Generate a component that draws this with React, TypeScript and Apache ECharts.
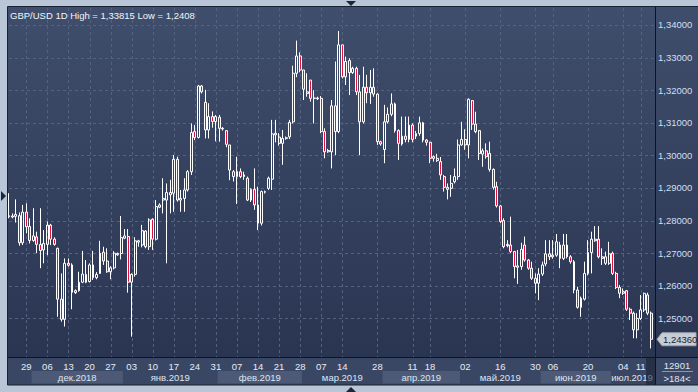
import React, { useEffect, useRef } from "react";
import * as echarts from "echarts";

// ---------- data ----------
const openVals = [
  1.2812, 1.2811, 1.2813, 1.2815, 1.2732, 1.2826, 1.2782, 1.2739, 1.2750, 1.2727,
  1.2710, 1.2727, 1.2786, 1.2743, 1.2715, 1.2559, 1.2497, 1.2669, 1.2664, 1.2585,
  1.2585, 1.2611, 1.2635, 1.2613, 1.2664, 1.2625, 1.2638, 1.2703, 1.2676, 1.2643,
  1.2655, 1.2699, 1.2699, 1.2746, 1.2751, 1.2611, 1.2635, 1.2734, 1.2725, 1.2768,
  1.2720, 1.2804, 1.2743, 1.2848, 1.2863, 1.2863, 1.2886, 1.2884, 1.2988, 1.2863,
  1.2868, 1.2894, 1.2950, 1.3073, 1.3055, 1.3213, 1.3163, 1.3078, 1.3119, 1.3104,
  1.3117, 1.3083, 1.3076, 1.3032, 1.2935, 1.2935, 1.2950, 1.2940, 1.2930, 1.2863,
  1.2896, 1.2848, 1.2792, 1.2889, 1.2899, 1.2927, 1.3063, 1.3056, 1.3037, 1.3052,
  1.3057, 1.3103, 1.3252, 1.3305, 1.3262, 1.3190, 1.3231, 1.3175, 1.3176, 1.3175,
  1.3073, 1.3011, 1.3011, 1.3152, 1.3073, 1.3339, 1.3241, 1.3291, 1.3254, 1.3267,
  1.3195, 1.3103, 1.3209, 1.3192, 1.3209, 1.3188, 1.3042, 1.3018, 1.3103, 1.3126,
  1.3158, 1.3076, 1.3035, 1.3059, 1.3049, 1.3093, 1.3059, 1.3067, 1.3100, 1.3047,
  1.3040, 1.2991, 1.2991, 1.2981, 1.2935, 1.2902, 1.2899, 1.2919, 1.2935, 1.3032,
  1.3049, 1.3032, 1.3168, 1.3096, 1.3076, 1.3004, 1.3014, 1.3006, 1.2957, 1.2904,
  1.2845, 1.2800, 1.2727, 1.2725, 1.2705, 1.2661, 1.2659, 1.2725, 1.2679, 1.2654,
  1.2623, 1.2608, 1.2636, 1.2667, 1.2698, 1.2689, 1.2694, 1.2725, 1.2684, 1.2725,
  1.2689, 1.2674, 1.2587, 1.2534, 1.2559, 1.2638, 1.2702, 1.2743, 1.2743, 1.2689,
  1.2669, 1.2669, 1.2700, 1.2638, 1.2595, 1.2582, 1.2585, 1.2528, 1.2516, 1.2465,
  1.2500, 1.2526, 1.2572, 1.2516,
];
const closeVals = [
  1.2815, 1.2814, 1.2819, 1.2732, 1.2826, 1.2781, 1.2739, 1.2753, 1.2727, 1.2708,
  1.2730, 1.2786, 1.2743, 1.2727, 1.2559, 1.2497, 1.2669, 1.2663, 1.2580, 1.2579,
  1.2611, 1.2636, 1.2611, 1.2664, 1.2625, 1.2635, 1.2700, 1.2676, 1.2643, 1.2655,
  1.2700, 1.2695, 1.2748, 1.2753, 1.2611, 1.2635, 1.2738, 1.2738, 1.2769, 1.2720,
  1.2802, 1.2743, 1.2843, 1.2841, 1.2868, 1.2886, 1.2879, 1.2988, 1.2863, 1.2868,
  1.2894, 1.2950, 1.3070, 1.3055, 1.3213, 1.3195, 1.3078, 1.3119, 1.3104, 1.3119,
  1.3083, 1.3081, 1.3034, 1.2955, 1.2950, 1.2950, 1.2935, 1.2935, 1.2863, 1.2896,
  1.2848, 1.2792, 1.2889, 1.2887, 1.2930, 1.3066, 1.3068, 1.3037, 1.3052, 1.3054,
  1.3101, 1.3252, 1.3305, 1.3262, 1.3203, 1.3195, 1.3175, 1.3176, 1.3174, 1.3073,
  1.3011, 1.3015, 1.3152, 1.3073, 1.3339, 1.3241, 1.3288, 1.3254, 1.3267, 1.3195,
  1.3103, 1.3209, 1.3192, 1.3209, 1.3188, 1.3042, 1.3035, 1.3103, 1.3126, 1.3158,
  1.3076, 1.3037, 1.3059, 1.3049, 1.3093, 1.3049, 1.3067, 1.3100, 1.3047, 1.3040,
  1.2991, 1.2996, 1.2984, 1.2940, 1.2902, 1.2896, 1.2914, 1.2935, 1.3032, 1.3049,
  1.3032, 1.3172, 1.3096, 1.3073, 1.3006, 1.3014, 1.2996, 1.2957, 1.2902, 1.2845,
  1.2797, 1.2720, 1.2723, 1.2705, 1.2659, 1.2657, 1.2712, 1.2679, 1.2654, 1.2623,
  1.2608, 1.2636, 1.2664, 1.2698, 1.2689, 1.2694, 1.2735, 1.2684, 1.2725, 1.2689,
  1.2674, 1.2587, 1.2534, 1.2562, 1.2638, 1.2702, 1.2743, 1.2738, 1.2689, 1.2684,
  1.2689, 1.2698, 1.2638, 1.2595, 1.2577, 1.2577, 1.2528, 1.2516, 1.2465, 1.2500,
  1.2526, 1.2577, 1.2516, 1.2436,
];
const lowVals = [
  1.2807, 1.2807, 1.2794, 1.2723, 1.2725, 1.2761, 1.2730, 1.2735, 1.2700, 1.2654,
  1.2669, 1.2694, 1.2725, 1.2723, 1.2505, 1.2490, 1.2475, 1.2659, 1.2528, 1.2575,
  1.2582, 1.2608, 1.2608, 1.2610, 1.2618, 1.2620, 1.2636, 1.2664, 1.2640, 1.2620,
  1.2650, 1.2692, 1.2681, 1.2743, 1.2579, 1.2444, 1.2628, 1.2720, 1.2718, 1.2715,
  1.2710, 1.2710, 1.2739, 1.2838, 1.2822, 1.2669, 1.2822, 1.2827, 1.2858, 1.2827,
  1.2827, 1.2889, 1.2940, 1.3047, 1.3052, 1.3190, 1.3052, 1.3052, 1.3085, 1.3043,
  1.3042, 1.3076, 1.3025, 1.2924, 1.2920, 1.2851, 1.2930, 1.2925, 1.2860, 1.2857,
  1.2833, 1.2771, 1.2785, 1.2883, 1.2894, 1.2894, 1.3040, 1.3030, 1.2971, 1.3048,
  1.3050, 1.3098, 1.3240, 1.3255, 1.3170, 1.3180, 1.3165, 1.3098, 1.3170, 1.3068,
  1.2991, 1.3008, 1.2960, 1.3001, 1.3068, 1.3236, 1.3216, 1.3185, 1.3250, 1.3185,
  1.3001, 1.3098, 1.3160, 1.3158, 1.3180, 1.3032, 1.3030, 1.2976, 1.3098, 1.3120,
  1.3070, 1.2986, 1.3030, 1.3040, 1.3040, 1.3040, 1.3050, 1.3060, 1.3040, 1.3030,
  1.2976, 1.2981, 1.2980, 1.2925, 1.2889, 1.2865, 1.2873, 1.2914, 1.2925, 1.3030,
  1.3017, 1.2991, 1.3078, 1.3068, 1.2986, 1.2965, 1.2990, 1.2950, 1.2895, 1.2840,
  1.2792, 1.2715, 1.2718, 1.2700, 1.2623, 1.2606, 1.2649, 1.2674, 1.2649, 1.2618,
  1.2577, 1.2556, 1.2630, 1.2660, 1.2679, 1.2683, 1.2689, 1.2654, 1.2679, 1.2684,
  1.2668, 1.2577, 1.2530, 1.2505, 1.2555, 1.2632, 1.2638, 1.2735, 1.2684, 1.2664,
  1.2664, 1.2664, 1.2633, 1.2590, 1.2562, 1.2572, 1.2523, 1.2495, 1.2439, 1.2439,
  1.2495, 1.2520, 1.2510, 1.2408,
];
const highVals = [
  1.2884, 1.2822, 1.2865, 1.2825, 1.2848, 1.2853, 1.2807, 1.2838, 1.2766, 1.2838,
  1.2771, 1.2797, 1.2790, 1.2749, 1.2717, 1.2638, 1.2684, 1.2684, 1.2669, 1.2589,
  1.2643, 1.2707, 1.2679, 1.2669, 1.2707, 1.2642, 1.2738, 1.2720, 1.2715, 1.2660,
  1.2706, 1.2702, 1.2814, 1.2774, 1.2774, 1.2638, 1.2749, 1.2741, 1.2787, 1.2771,
  1.2807, 1.2807, 1.2863, 1.2853, 1.2930, 1.2914, 1.2925, 1.3001, 1.2996, 1.2894,
  1.2930, 1.2955, 1.3098, 1.3093, 1.3216, 1.3216, 1.3201, 1.3160, 1.3135, 1.3124,
  1.3124, 1.3087, 1.3076, 1.3032, 1.2955, 1.2996, 1.2960, 1.2950, 1.2935, 1.2899,
  1.2960, 1.2904, 1.2892, 1.2892, 1.2935, 1.3109, 1.3109, 1.3068, 1.3078, 1.3058,
  1.3109, 1.3275, 1.3352, 1.3316, 1.3262, 1.3252, 1.3231, 1.3200, 1.3180, 1.3182,
  1.3083, 1.3020, 1.3170, 1.3288, 1.33815, 1.3339, 1.3303, 1.3298, 1.3272, 1.3272,
  1.3247, 1.3272, 1.3247, 1.3262, 1.3267, 1.3190, 1.3045, 1.3155, 1.3147, 1.3190,
  1.3162, 1.3080, 1.3119, 1.3119, 1.3119, 1.3098, 1.3075, 1.3119, 1.3103, 1.3050,
  1.3042, 1.3000, 1.3005, 1.2995, 1.2940, 1.2914, 1.2940, 1.2960, 1.3049, 1.3103,
  1.3080, 1.3175, 1.3170, 1.3134, 1.3078, 1.3021, 1.3037, 1.3042, 1.2960, 1.2919,
  1.2848, 1.2807, 1.2740, 1.2812, 1.2707, 1.2710, 1.2732, 1.2751, 1.2682, 1.2674,
  1.2638, 1.2654, 1.2674, 1.2740, 1.2740, 1.2740, 1.2759, 1.2735, 1.2759, 1.2759,
  1.2694, 1.2679, 1.2597, 1.2567, 1.2674, 1.2740, 1.2766, 1.2783, 1.2783, 1.2715,
  1.2705, 1.2735, 1.2705, 1.2643, 1.2602, 1.2592, 1.2587, 1.2533, 1.2521, 1.2516,
  1.2572, 1.2579, 1.2579, 1.2521,
];

const tickDates = [
  "2018-11-29", "2018-12-06", "2018-12-13", "2018-12-20", "2018-12-27",
  "2019-01-03", "2019-01-10", "2019-01-17", "2019-01-24", "2019-01-31",
  "2019-02-07", "2019-02-14", "2019-02-21", "2019-02-28", "2019-03-07",
  "2019-03-14", "2019-03-28", "2019-04-11", "2019-04-18", "2019-05-02",
  "2019-05-16", "2019-05-30", "2019-06-06", "2019-06-20", "2019-07-04",
  "2019-07-11",
];
const yTickValues = [1.25, 1.26, 1.27, 1.28, 1.29, 1.30, 1.31, 1.32, 1.33, 1.34];
const months = [
  { key: "2018-12", name: "дек.2018", shaded: true },
  { key: "2019-01", name: "янв.2019", shaded: false },
  { key: "2019-02", name: "фев.2019", shaded: true },
  { key: "2019-03", name: "мар.2019", shaded: false },
  { key: "2019-04", name: "апр.2019", shaded: true },
  { key: "2019-05", name: "май.2019", shaded: false },
  { key: "2019-06", name: "июн.2019", shaded: true },
  { key: "2019-07", name: "июл.2019", shaded: false },
];
const titleText = "GBP/USD 1D High = 1,33815 Low = 1,2408";
const barsCountText = "12901";
const visibleText = ">184<";

// trading days: Mon-Fri, plus Sunday sessions until mid-March
function buildDates(): string[] {
  const out: string[] = [];
  const start = Date.UTC(2018, 10, 23);
  const end = Date.UTC(2019, 6, 16);
  const sundayCutoff = Date.UTC(2019, 2, 15);
  for (let t = start; t <= end; t += 86400000) {
    const d = new Date(t);
    const wd = d.getUTCDay();
    if (wd === 6) continue;
    if (wd === 0 && t > sundayCutoff) continue;
    out.push(d.toISOString().slice(0, 10));
  }
  return out;
}
const dates = buildDates();

const FONT = "'Liberation Sans', Arial, sans-serif";
const fmt = (v: number, d = 5) => v.toFixed(d).replace(".", ",");

export default function App() {
  const ref = useRef<HTMLDivElement>(null);

  useEffect(() => {
    if (!ref.current) return;
    const chart = echarts.init(ref.current, null, { renderer: "svg" });
    const tickSet = new Set(tickDates.map((d) => dates.indexOf(d)));
    const data = dates.map((_, i) => [openVals[i], closeVals[i], lowVals[i], highVals[i]]);
    const yMin = 1.23816;
    const yMax = 1.34521;

    chart.setOption({
      animation: false,
      backgroundColor: "#b9c6d7",
      title: {
        text: titleText,
        left: 10,
        top: 10,
        padding: 0,
        textStyle: { color: "#f2f5fa", fontSize: 9.5, fontWeight: "normal", fontFamily: FONT },
      },
      grid: { left: 7, right: 45, top: 8, bottom: 35, containLabel: false },
      xAxis: {
        type: "category",
        data: dates,
        boundaryGap: true,
        axisLine: { show: false },
        axisTick: { show: false },
        splitLine: { show: false },
        axisLabel: {
          interval: (i: number) => tickSet.has(i),
          formatter: (v: string) => v.slice(8, 10),
          color: "#e6ecf6",
          fontSize: 9.5,
          fontFamily: FONT,
          margin: 4,
        },
      },
      yAxis: {
        type: "value",
        position: "right",
        min: yMin,
        max: yMax,
        splitNumber: 10,
        axisLine: { show: false },
        axisTick: { show: false },
        splitLine: { show: false },
        axisLabel: {
          showMinLabel: false,
          showMaxLabel: false,
          margin: 5,
          color: "#d3dff2",
          fontSize: 9.5,
          fontFamily: FONT,
          formatter: (v: number) => (v < 1.245 ? "" : fmt(v)),
        },
      },
      series: [
        {
          type: "candlestick",
          data,
          barWidth: 2.4,
          z: 5,
          itemStyle: {
            color: "rgba(0,0,0,0)",
            color0: "#e2103c",
            borderColor: "#ffffff",
            borderColor0: "#ffffff",
            borderColorDoji: "#ffffff",
            borderWidth: 1,
          },
        },
      ],
    });

    const px = (i: number) => chart.convertToPixel({ xAxisIndex: 0 }, i) as number;
    const py = (v: number) => chart.convertToPixel({ yAxisIndex: 0 }, v) as number;
    const step = px(1) - px(0);
    const plotTop = 8;
    const plotBottom = 357;
    const rightEdge = 655;

    const g: any[] = [];
    // panel background
    g.push({
      type: "rect",
      z: -10,
      shape: { x: 8, y: 7, width: 691, height: plotBottom - 7 },
      style: {
        fill: new echarts.graphic.LinearGradient(0, 0, 0, 1, [
          { offset: 0, color: "#3f4e6c" },
          { offset: 1, color: "#2a3551" },
        ]),
      },
    });
    g.push({
      type: "rect",
      z: -10,
      shape: { x: 8, y: plotBottom, width: 691, height: 385 - plotBottom },
      style: { fill: "#3a4764" },
    });
    // month bands + labels
    months.forEach((m) => {
      const idx = dates.map((d, i) => (d.startsWith(m.key) ? i : -1)).filter((i) => i >= 0);
      if (!idx.length) return;
      const x0 = Math.max(8, px(idx[0]) - step / 2);
      const x1 = Math.min(rightEdge, px(idx[idx.length - 1]) + step / 2);
      if (m.shaded) {
        g.push({
          type: "rect",
          z: -9,
          shape: { x: x0, y: 371, width: x1 - x0, height: 12.5 },
          style: { fill: "#4d5a77" },
        });
      }
      g.push({
        type: "text",
        z: 10,
        x: (x0 + x1) / 2,
        y: 377.5,
        style: {
          text: m.name,
          fill: "#dde5f2",
          fontSize: 9.5,
          fontFamily: FONT,
          align: "center",
          verticalAlign: "middle",
        },
      });
    });
    // vertical grid lines at labelled dates
    tickDates.forEach((d) => {
      const i = dates.indexOf(d);
      if (i < 0) return;
      const x = Math.round(px(i)) + 0.5;
      g.push({
        type: "line",
        z: -5,
        shape: { x1: x, y1: plotTop, x2: x, y2: plotBottom },
        style: { stroke: "#53627f", lineWidth: 1, lineDash: [3, 3] },
      });
    });
    // horizontal grid lines at price ticks
    yTickValues.forEach((v) => {
      const y = Math.round(py(v)) + 0.5;
      g.push({
        type: "line",
        z: -5,
        shape: { x1: 9, y1: y, x2: rightEdge, y2: y },
        style: { stroke: "#53627f", lineWidth: 1, lineDash: [3, 3] },
      });
    });
    // current-week shade in the time axis
    const curX = px(182) - step / 2;
    g.push({
      type: "rect",
      z: 12,
      shape: { x: curX, y: plotBottom + 1, width: rightEdge - curX, height: 385 - plotBottom - 1 },
      style: { fill: "rgba(22,30,48,0.55)" },
    });
    // axis lines and panel border
    g.push({
      type: "line",
      z: 20,
      shape: { x1: 8, y1: plotBottom + 0.5, x2: 698, y2: plotBottom + 0.5 },
      style: { stroke: "#0e131c", lineWidth: 1 },
    });
    g.push({
      type: "line",
      z: 20,
      shape: { x1: rightEdge + 0.5, y1: 7, x2: rightEdge + 0.5, y2: 385 },
      style: { stroke: "#0e131c", lineWidth: 1 },
    });
    g.push({
      type: "rect",
      z: 20,
      shape: { x: 7.5, y: 6.5, width: 692, height: 378.5 },
      style: { fill: "none", stroke: "#1a2131", lineWidth: 1 },
    });
    // last price tag
    const lastClose = closeVals[closeVals.length - 1];
    const ty = py(lastClose);
    g.push({
      type: "polygon",
      z: 20,
      shape: {
        points: [
          [657, ty],
          [662, ty - 6.5],
          [696, ty - 6.5],
          [696, ty + 6.5],
          [662, ty + 6.5],
        ],
      },
      style: { fill: "#c8ccd3", stroke: "#9ea6b4", lineWidth: 1 },
    });
    g.push({
      type: "text",
      z: 21,
      x: 663,
      y: ty,
      style: {
        text: fmt(lastClose),
        fill: "#1b2334",
        fontSize: 9.5,
        fontFamily: FONT,
        align: "left",
        verticalAlign: "middle",
      },
    });
    // bottom-right box
    g.push({
      type: "text",
      z: 21,
      x: 677,
      y: 365,
      style: { text: barsCountText, fill: "#dfe6f2", fontSize: 9.5, fontFamily: FONT, align: "center", verticalAlign: "middle" },
    });
    g.push({
      type: "line",
      z: 21,
      shape: { x1: 662, y1: 371.5, x2: 693, y2: 371.5 },
      style: { stroke: "#8a98b0", lineWidth: 1 },
    });
    g.push({
      type: "text",
      z: 21,
      x: 677,
      y: 378,
      style: { text: visibleText, fill: "#dfe6f2", fontSize: 9.5, fontFamily: FONT, align: "center", verticalAlign: "middle" },
    });
    // navigation triangles on the frame
    const tri = "#1d2638";
    g.push({ type: "polygon", z: 21, shape: { points: [[346, 1], [356, 1], [351, 6]] }, style: { fill: tri } });
    g.push({ type: "polygon", z: 21, shape: { points: [[346, 392], [356, 392], [351, 387]] }, style: { fill: tri } });
    g.push({ type: "polygon", z: 21, shape: { points: [[1, 191], [1, 201], [6, 196]] }, style: { fill: tri } });

    chart.setOption({ graphic: { elements: g } });

    return () => chart.dispose();
  }, []);

  return (
    <div
      ref={ref}
      style={{ position: "fixed", left: 0, top: 0, width: 698, height: 392 }}
    />
  );
}
